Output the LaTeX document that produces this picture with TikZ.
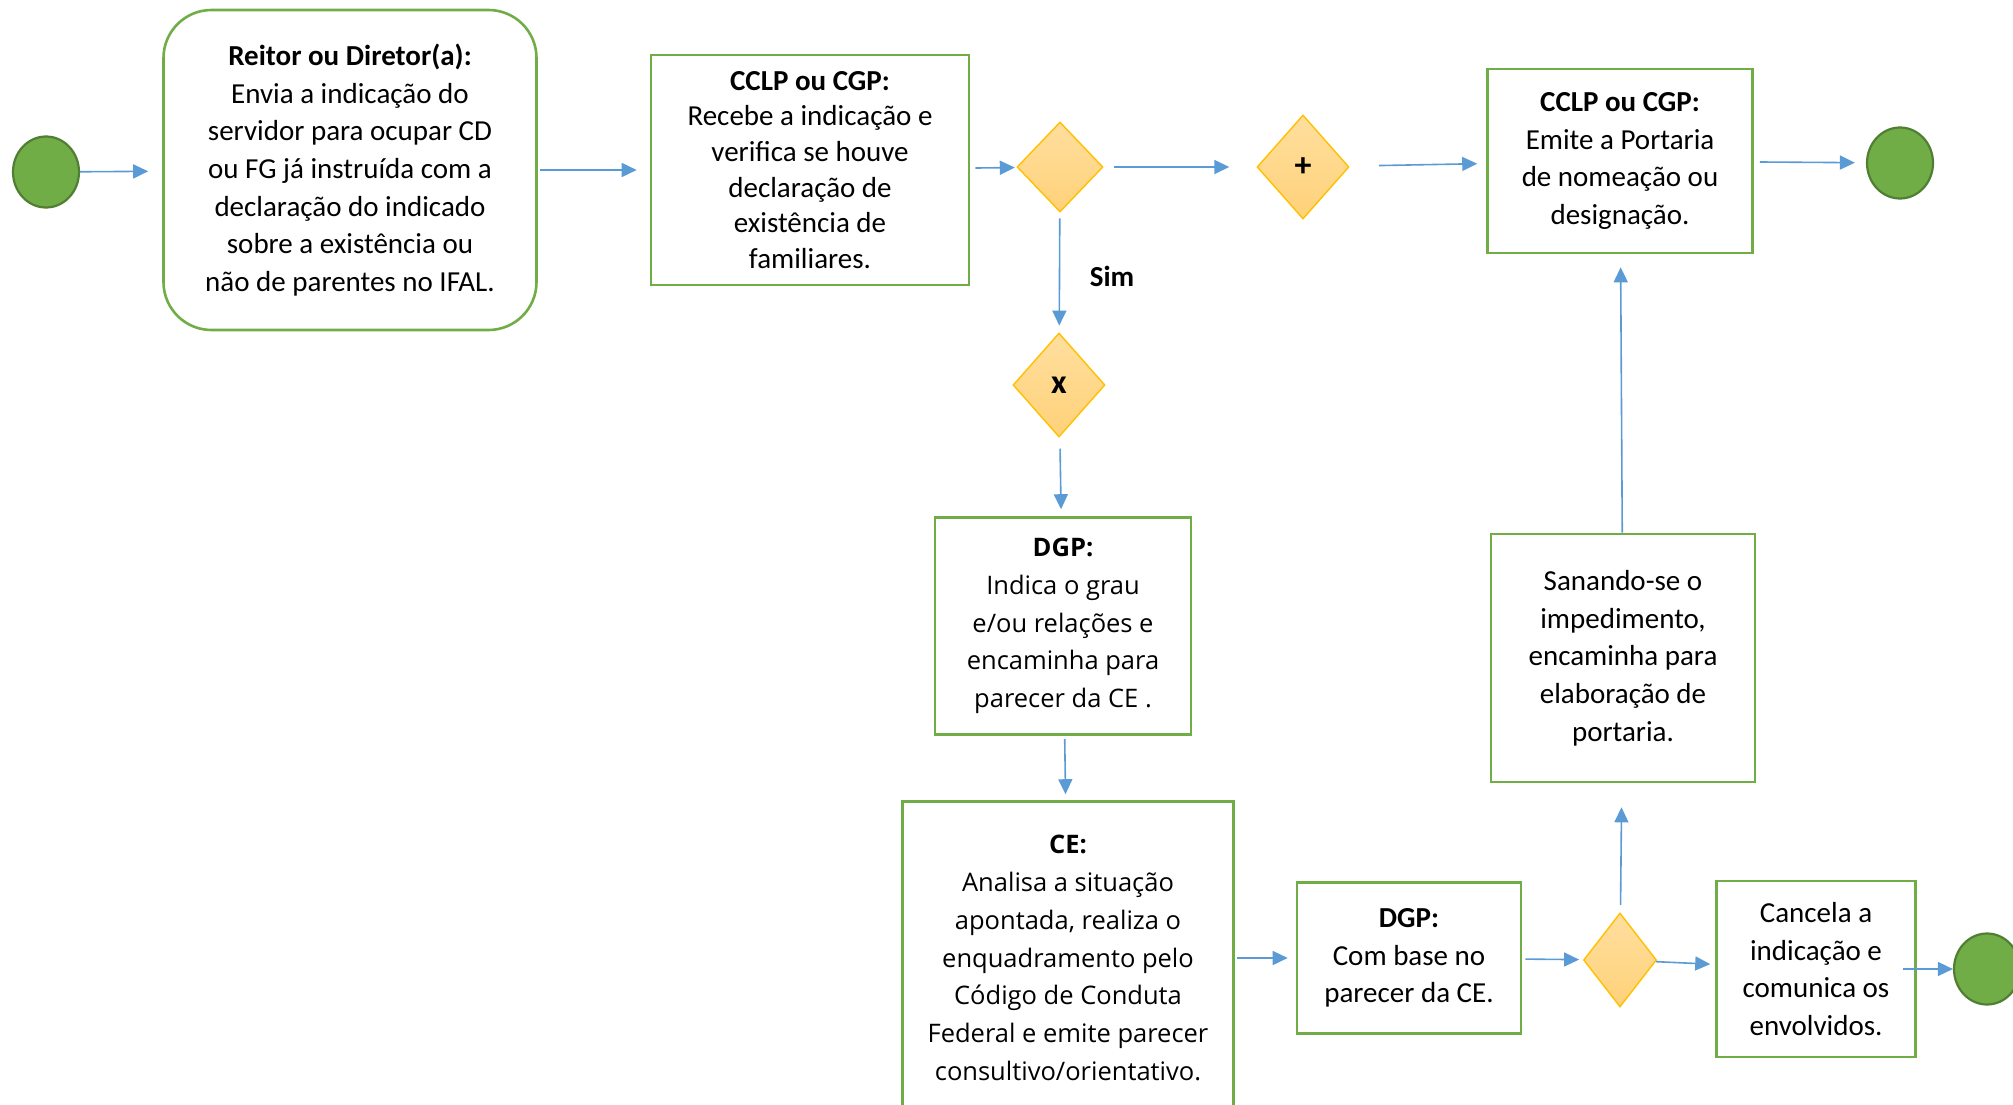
\documentclass[tikz,border=0pt]{standalone}
\usepackage{fontspec}
\setmainfont{Carlito}
\newfontfamily\widefont{Open Sans}
\usepackage{tikz}
\usetikzlibrary{positioning,arrows.meta,shapes.geometric}
\definecolor{actline}{HTML}{70AD47}
\definecolor{evtfill}{HTML}{70AD47}
\definecolor{evtline}{HTML}{507E32}
\definecolor{gateline}{HTML}{FFC000}
\definecolor{gatetop}{HTML}{FFDE9E}
\definecolor{gatebot}{HTML}{FFD27A}
\definecolor{flowc}{HTML}{5B9BD5}
\newcommand{\bodyfont}{\fontsize{29}{37.7}\selectfont}
\newcommand{\widebody}{\widefont\fontsize{25.5}{37.7}\selectfont}
\tikzset{
  act/.style     ={rectangle, draw=actline, line width=2.6pt, align=center,
                   inner sep=0pt, font=\bodyfont},
  actround/.style={act, rounded corners=48pt},
  evt/.style     ={ellipse, draw=evtline, fill=evtfill, line width=2.2pt,
                   minimum width=66pt, minimum height=71pt},
  gate/.style    ={diamond, draw=gateline, line width=1.4pt, top color=gatetop,
                   bottom color=gatebot, inner sep=0pt,
                   font=\bfseries\fontsize{34}{36}\selectfont},
  % sequence flow; gaps at both ends are given per edge
  flow/.style    ={draw=flowc, line width=1.6pt, -{Triangle[length=15pt,width=14pt]}},
}
\def\flowlist{start/indica/0pt/14pt, indica/recebe/2pt/13pt, recebe/decl/5pt/2pt,
  decl/plus/10pt/27pt, plus/emite/30pt/9pt, emite/fim/6pt/11pt,
  decl/excl/6pt/7pt, excl/grau/12pt/7pt, grau/analisa/3pt/6pt,
  analisa/parecer/2pt/8pt, parecer/decide/3pt/4pt, decide/sana/8pt/24pt,
  sana/emite/0pt/13pt, decide/cancela/0pt/5pt, cancela/fimb/-14pt/0pt}

\begin{document}
\begin{tikzpicture}[x=1pt,y=-1pt]
\useasboundingbox (0,0) rectangle (2013,1105);
\node[evt] (start) at (46,172) {};
\node[actround, minimum width=373pt, minimum height=320pt] (indica) at (350,170)
  {\textbf{Reitor ou Diretor(a):}\\ Envia a indicação do\\ servidor para ocupar CD\\
   ou FG já instruída com a\\ declaração do indicado\\ sobre a existência ou\\
   não de parentes no IFAL.};
\node[act, font=\fontsize{29}{35.7}\selectfont, minimum width=318pt, minimum height=230pt]
  (recebe) at (810,170)
  {\textbf{CCLP ou CGP:}\\ Recebe a indicação e\\ verifica se houve\\
   declaração de\\ existência de\\ familiares.};
\node[gate, minimum width=86pt, minimum height=90pt] (decl) at (1060,167) {};
\node[gate, minimum width=92pt, minimum height=104pt] (plus) at (1303,167) {+};
\node[act, minimum width=265pt, minimum height=184pt] (emite) at (1620,161)
  {\textbf{CCLP ou CGP:}\\ Emite a Portaria\\ de nomeação ou\\ designação.};
\node[evt] (fim) at (1900,163) {};
\node[font=\bfseries\bodyfont] (sim) at (1112,276) {Sim};
\node[gate, minimum width=92pt, minimum height=104pt] (excl) at (1059,385) {x};
\node[act, font=\widebody, minimum width=256pt, minimum height=217pt] (grau) at (1063,626)
  {\textbf{DGP:}\\ Indica o grau\\ e/ou relações e\\ encaminha para\\ parecer da CE .};
\node[act, font=\widebody, minimum width=331pt, minimum height=313pt] (analisa) at (1068,958)
  {\textbf{CE:}\\ Analisa a situação\\ apontada, realiza o\\ enquadramento pelo\\
   Código de Conduta\\ Federal e emite parecer\\ consultivo/orientativo.};
\node[act, minimum width=224pt, minimum height=151pt] (parecer) at (1409,958)
  {\textbf{DGP:}\\ Com base no\\ parecer da CE.};
\node[gate, minimum width=73pt, minimum height=94pt] (decide) at (1620,960) {};
\node[act, minimum width=264pt, minimum height=248pt] (sana) at (1623,658)
  {Sanando-se o\\ impedimento,\\ encaminha para\\ elaboração de\\ portaria.};
\node[act, minimum width=199pt, minimum height=176pt] (cancela) at (1816,969)
  {Cancela a\\ indicação e\\ comunica os\\ envolvidos.};
\node[evt] (fimb) at (1987,969) {};
\foreach \a/\b/\s/\e in \flowlist
  {\draw[flow, shorten <=\s, shorten >=\e] (\a) -- (\b);}
\end{tikzpicture}
\end{document}
